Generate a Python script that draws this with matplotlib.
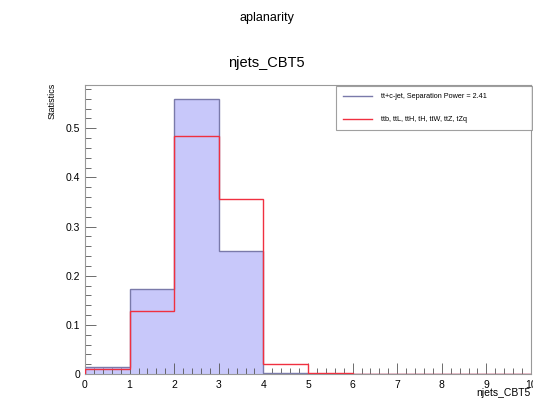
import matplotlib
matplotlib.use("Agg")
import matplotlib.pyplot as plt
import numpy as np
from matplotlib.ticker import MultipleLocator
from matplotlib.lines import Line2D

plt.rcParams['font.family'] = ['Liberation Sans', 'DejaVu Sans']

bin_edges = [0, 1, 2, 3, 4, 5, 6, 7, 8, 9, 10]
signal_vals = [0.015, 0.173, 0.559, 0.251, 0.002, 0.001, 0.0, 0.0, 0.0, 0.0]
background_vals = [0.010, 0.129, 0.484, 0.357, 0.021, 0.003, 0.001, 0.001, 0.001, 0.001]
signal_label = "tt+c-jet, Separation Power = 2.41"
background_label = "ttb, ttL, ttH, tH, ttW, ttZ, tZq"

fig = plt.figure(figsize=(5.33, 4.0), dpi=100)
ax = fig.add_axes([85/533, 1-374/400, 446/533, (374-85)/400])

ax.stairs(signal_vals, bin_edges, fill=True, color='#c8c8fa', zorder=1)
ax.stairs(signal_vals, bin_edges, color='#7a7aaa', linewidth=1.0, zorder=2)
ax.stairs(background_vals, bin_edges, color='#f03040', linewidth=1.0, zorder=3)

ax.set_xlim(0, 10)
ax.set_ylim(0, 0.588)
ax.xaxis.set_minor_locator(MultipleLocator(0.2))
ax.yaxis.set_minor_locator(MultipleLocator(0.02))
ax.set_xticks(range(11))
ax.set_xticklabels([str(i) for i in range(11)])
ax.set_yticks([0, 0.1, 0.2, 0.3, 0.4, 0.5])
ax.set_yticklabels(['0', '0.1', '0.2', '0.3', '0.4', '0.5'])
ax.tick_params(which='both', direction='in', top=False, right=False, labelsize=7.5, color='#555555')
ax.tick_params(which='major', length=8, width=0.6)
ax.tick_params(which='minor', length=4, width=0.6)
ax.tick_params(axis='x', pad=4)
for s in ax.spines.values():
    s.set_color('#999999')
    s.set_linewidth(0.8)

fig.text(0.5, 1-18/400, "aplanarity", ha='center', va='center', fontsize=9)
fig.text(0.5, 1-63/400, "njets_CBT5", ha='center', va='center', fontsize=10.5)
fig.text(52/533, 1-83/400, "Statistics", rotation=90, ha='center', va='top', fontsize=6.5)
fig.text(531/533, 1-393/400, "njets_CBT5", ha='right', va='center', fontsize=7.5)

h1 = Line2D([], [], color='#7a7aaa', lw=1.0)
h2 = Line2D([], [], color='#f03040', lw=1.0)
leg = fig.legend([h1, h2], [signal_label, background_label],
                 loc='upper left', bbox_to_anchor=(336/533, 1-140/400, 196/533, 54/400),
                 mode='expand', bbox_transform=fig.transFigure, fontsize=5.2,
                 frameon=True, fancybox=False, borderaxespad=0, labelspacing=2.2,
                 handlelength=4.0, handletextpad=1.2, borderpad=1.0)
leg.get_frame().set_edgecolor('#888888')
leg.get_frame().set_linewidth(0.8)

fig.savefig("out.png", dpi=100)
